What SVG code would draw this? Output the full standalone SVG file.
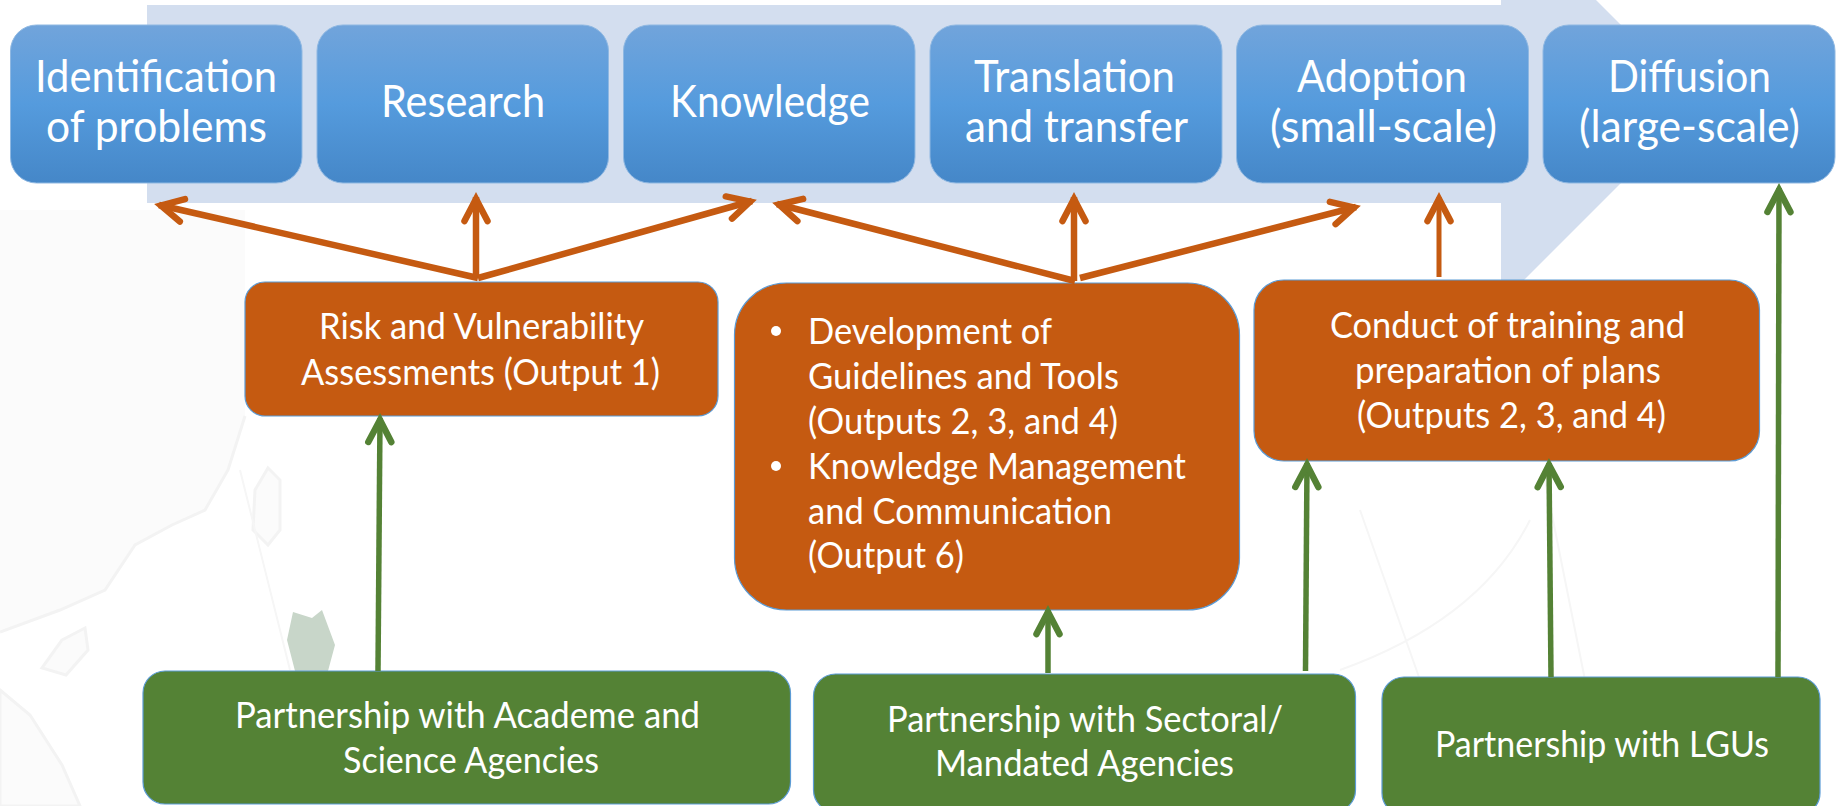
<svg xmlns="http://www.w3.org/2000/svg" width="1839" height="806" viewBox="0 0 1839 806">
<style>
text{font-family:Lato,"Liberation Sans",sans-serif;fill:#fff}
.t{font-size:45px}.s{font-size:37px}
.o{fill:#c55a11;stroke:#5b9bd5;stroke-width:1.2}
.g{fill:#548235;stroke:#5b9bd5;stroke-width:1.2}
.b{fill:url(#bg);stroke:#8fb8e2;stroke-width:1}
.co{fill:none;stroke:#c55a11;stroke-width:6.500;marker-end:url(#ao)}
.cot{fill:none;stroke:#c55a11;stroke-width:5;marker-end:url(#ao)}
.cg{fill:none;stroke:#548235;stroke-width:5.500;marker-end:url(#ag)}
.m{fill:#fbfbfb;stroke:#f3f3f3;stroke-width:3}
.f{fill:#fbfbfb}
.l{fill:none;stroke:#f6f6f6;stroke-width:2}
.c{fill:none;stroke:#f3f3f3;stroke-width:3}
</style>
<defs>
<linearGradient id="bg" x1="0" y1="0" x2="0" y2="1"><stop offset="0" stop-color="#71a4db"/><stop offset=".5" stop-color="#559bdd"/><stop offset="1" stop-color="#4587c8"/></linearGradient>
<marker id="ao" markerUnits="userSpaceOnUse" markerWidth="36" markerHeight="36" refX="30" refY="18" orient="auto"><path d="M6 6.500L28 18L6 29.500" fill="none" stroke="#c55a11" stroke-width="6.500" stroke-linecap="round"/></marker>
<marker id="ag" markerUnits="userSpaceOnUse" markerWidth="36" markerHeight="36" refX="30" refY="18" orient="auto"><path d="M6 6.500L28 18L6 29.500" fill="none" stroke="#548235" stroke-width="6.500" stroke-linecap="round"/></marker>
</defs>
<rect width="1839" height="806" fill="#fff"/>
<g id="map">
<path class="f" d="M0 210L245 210L245 416L228 470L205 510L172 525L135 545L105 590L60 610L0 632Z"/>
<path class="c" d="M245 416L228 470L205 510L172 525L135 545L105 590L60 610L0 632"/>
<path class="m" d="M62 640L85 628L88 650L66 675L42 668Z"/>
<path class="m" d="M268 468L280 480L280 530L268 545L253 530L255 490Z"/>
<path class="m" d="M0 690L30 715L62 765L80 806L0 806Z"/>
<path d="M293 612L312 618L322 610L335 645L328 671L295 671L287 640Z" fill="#c8d6c9"/>
<path class="l" d="M240 470L290 670M1360 510L1420 680M1530 520Q1480 620 1340 670M1545 480L1585 680"/>
</g>
<polygon id="process-band" points="147,5 1501,5 1501,-95 1700,104 1501,303 1501,203 147,203" fill="#d3deef"/>
<g id="n1"><rect class="b" x="10.500" y="25" width="291.500" height="158" rx="26"/><text class="t" x="35" y="92" textLength="242" lengthAdjust="spacingAndGlyphs">Identification</text><text class="t" x="46" y="142" textLength="221" lengthAdjust="spacingAndGlyphs">of problems</text></g>
<g id="n2"><rect class="b" x="317" y="25" width="291.500" height="158" rx="26"/><text class="t" x="381" y="117" textLength="164" lengthAdjust="spacingAndGlyphs">Research</text></g>
<g id="n3"><rect class="b" x="623.500" y="25" width="291.500" height="158" rx="26"/><text class="t" x="670" y="117" textLength="200" lengthAdjust="spacingAndGlyphs">Knowledge</text></g>
<g id="n4"><rect class="b" x="930" y="25" width="292" height="158" rx="26"/><text class="t" x="974" y="92" textLength="201" lengthAdjust="spacingAndGlyphs">Translation</text><text class="t" x="965" y="142" textLength="223" lengthAdjust="spacingAndGlyphs">and transfer</text></g>
<g id="n5"><rect class="b" x="1236.500" y="25" width="292" height="158" rx="26"/><text class="t" x="1297" y="92" textLength="170" lengthAdjust="spacingAndGlyphs">Adoption</text><text class="t" x="1270" y="142" textLength="227" lengthAdjust="spacingAndGlyphs">(small-scale)</text></g>
<g id="n6"><rect class="b" x="1543" y="25" width="292" height="158" rx="26"/><text class="t" x="1608" y="92" textLength="163" lengthAdjust="spacingAndGlyphs">Diffusion</text><text class="t" x="1579" y="142" textLength="221" lengthAdjust="spacingAndGlyphs">(large-scale)</text></g>
<g id="n7"><rect class="o" x="245" y="282" width="473" height="134" rx="20"/><text class="s" x="319" y="339" textLength="325" lengthAdjust="spacingAndGlyphs">Risk and Vulnerability</text><text class="s" x="301" y="385" textLength="359" lengthAdjust="spacingAndGlyphs">Assessments (Output 1)</text></g>
<g id="n8"><rect class="o" x="734.500" y="283" width="505" height="327" rx="52"/>
<circle cx="776" cy="331" r="5" fill="#fff"/><circle cx="776" cy="466" r="5" fill="#fff"/>
<text class="s" x="808" y="344" textLength="244" lengthAdjust="spacingAndGlyphs">Development of</text><text class="s" x="808" y="389" textLength="311" lengthAdjust="spacingAndGlyphs">Guidelines and Tools</text><text class="s" x="808" y="434" textLength="310" lengthAdjust="spacingAndGlyphs">(Outputs 2, 3, and 4)</text><text class="s" x="808" y="479" textLength="378" lengthAdjust="spacingAndGlyphs">Knowledge Management</text><text class="s" x="808" y="524" textLength="304" lengthAdjust="spacingAndGlyphs">and Communication</text><text class="s" x="808" y="568" textLength="156" lengthAdjust="spacingAndGlyphs">(Output 6)</text></g>
<g id="n9"><rect class="o" x="1254" y="280" width="505.500" height="181" rx="30"/><text class="s" x="1330" y="338" textLength="355" lengthAdjust="spacingAndGlyphs">Conduct of training and</text><text class="s" x="1355" y="383" textLength="306" lengthAdjust="spacingAndGlyphs">preparation of plans</text><text class="s" x="1357" y="428" textLength="309" lengthAdjust="spacingAndGlyphs">(Outputs 2, 3, and 4)</text></g>
<g id="n10"><rect class="g" x="143" y="671" width="647.500" height="133" rx="22"/><text class="s" x="235" y="728" textLength="465" lengthAdjust="spacingAndGlyphs">Partnership with Academe and</text><text class="s" x="343" y="773" textLength="256" lengthAdjust="spacingAndGlyphs">Science Agencies</text></g>
<g id="n11"><rect class="g" x="813.500" y="674" width="542" height="138" rx="22"/><text class="s" x="887" y="732" textLength="396" lengthAdjust="spacingAndGlyphs">Partnership with Sectoral/</text><text class="s" x="935" y="776" textLength="299" lengthAdjust="spacingAndGlyphs">Mandated Agencies</text></g>
<g id="n12"><rect class="g" x="1382" y="677" width="438" height="138" rx="22"/><text class="s" x="1435" y="757" textLength="334" lengthAdjust="spacingAndGlyphs">Partnership with LGUs</text></g>
<g id="connectors">
<path class="co" d="M478 278L159 205"/>
<path class="co" d="M476 278L476 197"/>
<path class="co" d="M478 278L752 201"/>
<path class="co" d="M1075 281L777 204"/>
<path class="co" d="M1074 281L1074 197"/>
<path class="co" d="M1080 278L1356 207"/>
<path class="cot" d="M1439 277L1439 197"/>
<path class="cg" d="M378 671L380 418"/>
<path class="cg" d="M1048 673L1048 610"/>
<path class="cg" d="M1305.500 671L1307 463"/>
<path class="cg" d="M1551 677L1549 463"/>
<path class="cg" d="M1778 677L1779 188"/>
</g>
</svg>
